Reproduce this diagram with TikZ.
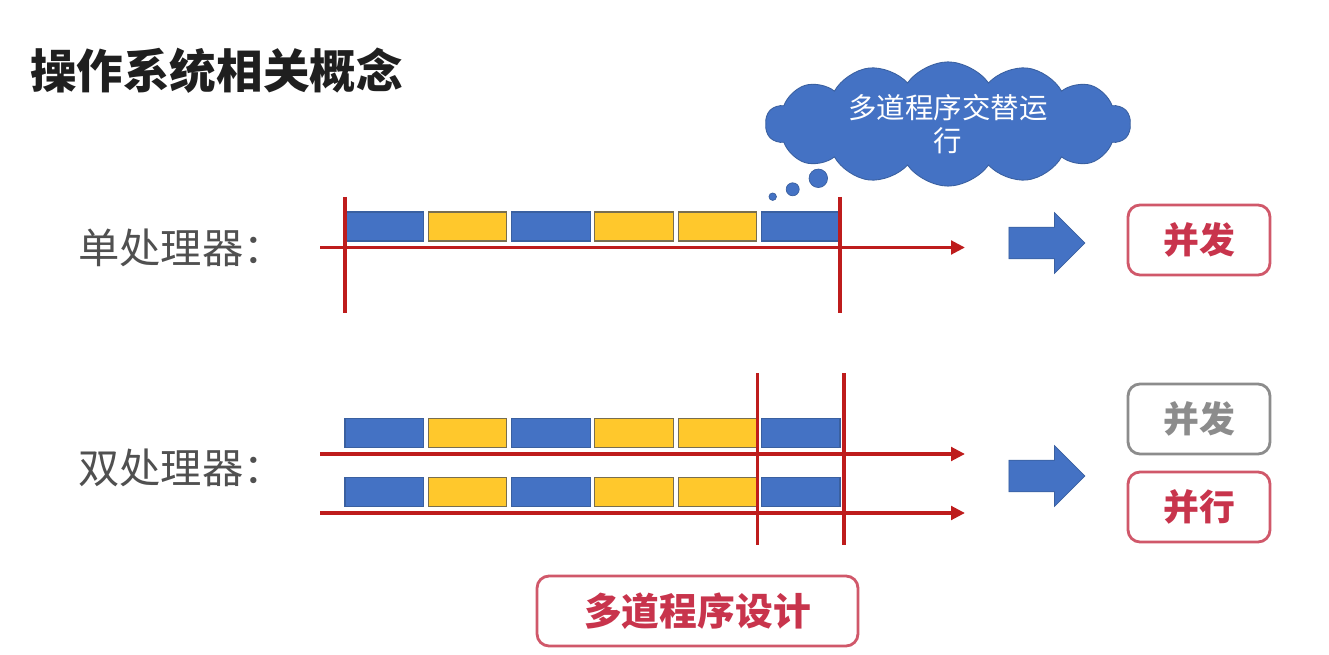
\documentclass[tikz,border=0pt]{standalone}
\usepackage{fontspec}
\setmainfont{Noto Sans CJK SC}
\usetikzlibrary{arrows.meta,shapes.symbols,shapes.arrows}
\definecolor{blockblue}{RGB}{68,114,196}
\definecolor{blockblueedge}{RGB}{58,96,160}
\definecolor{blockyellow}{RGB}{255,200,44}
\definecolor{blockyellowedge}{RGB}{120,110,80}
\definecolor{axisred}{RGB}{190,28,28}
\definecolor{tagred}{RGB}{208,88,106}
\definecolor{tagtext}{RGB}{200,52,76}
\definecolor{taggray}{RGB}{140,140,140}
\definecolor{labelgray}{RGB}{80,80,80}
\tikzset{
  blk/.style={line width=0.6pt, minimum width=1.57cm, minimum height=0.58cm, inner sep=0pt},
  blueblk/.style={blk, fill=blockblue, draw=blockblueedge},
  yellowblk/.style={blk, fill=blockyellow, draw=blockyellowedge},
  timeaxis/.style={draw=axisred, line width=2pt, -{Triangle[length=0.28cm, width=0.27cm]}},
  cutline/.style={draw=axisred, line width=1.8pt},
  tagbox/.style={draw=tagred, line width=1.6pt, rounded corners=0.24cm, minimum width=2.84cm,
    minimum height=1.4cm, text=tagtext, font=\fontsize{20.4}{24}\selectfont\bfseries},
  bigarrow/.style={single arrow, fill=blockblue, draw=blockblueedge, line width=0.4pt,
    minimum height=1.52cm, minimum width=1.2cm, inner ysep=0.31cm, inner xsep=0pt,
    single arrow head extend=0.29cm, single arrow tip angle=90},
  bubble/.style={circle, fill=blockblue, draw=blockblueedge, line width=0.4pt, inner sep=0pt}
}

\begin{document}
\begin{tikzpicture}[x=0.02cm, y=-0.02cm]
  \fill[white] (0,0) rectangle (1329,655);
  \useasboundingbox (0,0) rectangle (1329,655);
  \node[anchor=west, font=\fontsize{26.5}{30}\selectfont\bfseries, text=black!88] (title) at (24,71) {操作系统相关概念};
  \node[anchor=west, font=\fontsize{23.5}{28}\selectfont, text=labelgray] (single) at (72,248) {单处理器：};
  \node[anchor=west, font=\fontsize{23.5}{28}\selectfont, text=labelgray] (dual) at (72,468) {双处理器：};
  % blocks
  \foreach \i/\c in {0/blueblk,1/yellowblk,2/blueblk,3/yellowblk,4/yellowblk,5/blueblk} {
    \node[\c] (a\i) at (384.25+83.3*\i,226.5) {};
    \node[\c] (b\i) at (384.25+83.3*\i,433) {};
    \node[\c] (c\i) at (384.25+83.3*\i,492) {};
  }
  % time axes
  \coordinate (s1) at (320,247.5);
  \coordinate (e1) at (965,247.5);
  \coordinate (s2) at (320,454);
  \coordinate (e2) at (965,454);
  \coordinate (s3) at (320,513);
  \coordinate (e3) at (965,513);
  \draw[timeaxis] (s1) -- (e1);
  \draw[timeaxis] (s2) -- (e2);
  \draw[timeaxis] (s3) -- (e3);
  \coordinate (u1) at (345,197);
  \coordinate (d1) at (345,313);
  \coordinate (u2) at (840,197);
  \coordinate (d2) at (840,313);
  \coordinate (u3) at (757.5,373);
  \coordinate (d3) at (757.5,545);
  \coordinate (u4) at (844,373);
  \coordinate (d4) at (844,545);
  \draw[cutline] (u1) -- (d1);
  \draw[cutline] (u2) -- (d2);
  \draw[cutline] (u3) -- (d3);
  \draw[cutline] (u4) -- (d4);
  % thought cloud
  \node[cloud, cloud puffs=14, cloud puff arc=110, aspect=3, fill=blockblue, draw=blockblueedge,
    line width=0.5pt, minimum width=7.3cm, minimum height=2.45cm, inner sep=0pt, text=white,
    align=center, font=\fontsize{16.2}{19}\selectfont] (cloud) at (948,124) {多道程序交替运\\行};
  \node[bubble, minimum size=0.37cm] (bub1) at (818.3,178.3) {};
  \node[bubble, minimum size=0.26cm] (bub2) at (792.7,189.3) {};
  \node[bubble, minimum size=0.15cm] (bub3) at (772.7,196.7) {};
  % results
  \node[bigarrow] (arr1) at (1039,243) {};
  \node[bigarrow] (arr2) at (1039,476) {};
  \node[tagbox] (conc1) at (1199,240) {并发};
  \node[tagbox, draw=taggray, text=taggray] (conc2) at (1199,419) {并发};
  \node[tagbox] (para) at (1199,507) {并行};
  \node[tagbox, minimum width=6.42cm, font=\fontsize{21.5}{26}\selectfont\bfseries] (multi) at (697.5,611) {多道程序设计};
\end{tikzpicture}
\end{document}
